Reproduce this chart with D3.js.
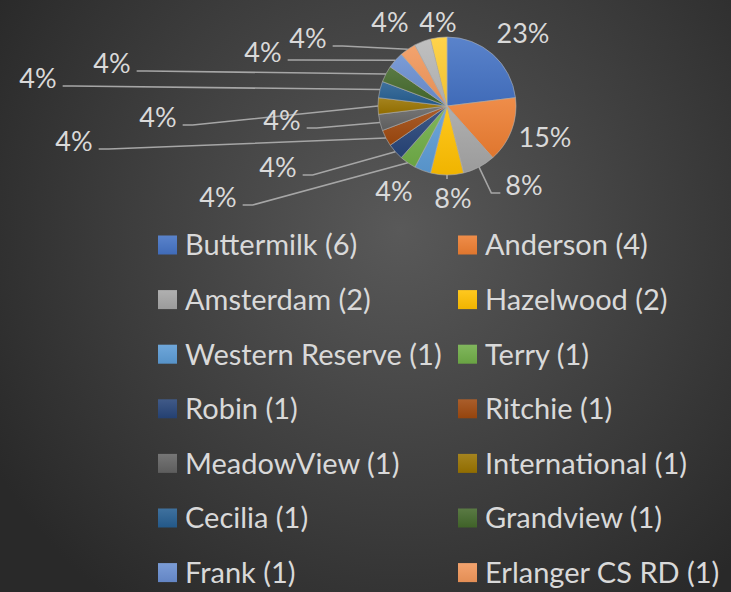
<!DOCTYPE html>
<html>
<head>
<meta charset="utf-8">
<script src="https://cdn.jsdelivr.net/npm/d3@7"></script>
<style>
  html, body { margin: 0; padding: 0; overflow: hidden; background: #333; }
  text { font-family: Lato, "Open Sans", sans-serif; fill: #d9d9d9; }
</style>
</head>
<body>
<div id="chart"></div>
<script>
// data
const schools = ['Buttermilk', 'Anderson', 'Amsterdam', 'Hazelwood', 'Western Reserve', 'Terry',
  'Robin', 'Ritchie', 'MeadowView', 'International', 'Cecilia', 'Grandview', 'Frank',
  'Erlanger CS RD', 'Other 1', 'Other 2'];
const counts = [6, 4, 2, 2, 1, 1, 1, 1, 1, 1, 1, 1, 1, 1, 1, 1];
const colors = ['#4472C4', '#ED7D31', '#A5A5A5', '#FFC000', '#5B9BD5', '#70AD47', '#264478', '#9E480E',
  '#636363', '#997300', '#255E91', '#43682B', '#698ED0', '#F1975A', '#B7B7B7', '#FFCD33'];

// label placement: offset of label centre from the pie centre, and where the leader line attaches
const labelPos = [[76,-73],[98,31],[77,79],[6,92],[-53,85],[-229,91],[-169,61],[-373,35],
  [-165,14],[-289,11],[-409,-28],[-335,-43],[-184,-54],[-139,-68],[-57,-84],[-9,-84]];
const leaderSide = [null, null, 'right', 'below', null, 'left', 'left', 'left',
  'left', 'left', 'left', 'left', 'left', 'left', null, null];

const width = 731, height = 592;
const cx = 447, cy = 106, r = 69;

const svg = d3.select('#chart').append('svg')
  .attr('width', width).attr('height', height);

const defs = svg.append('defs');
const bg = defs.append('radialGradient').attr('id', 'bg')
  .attr('gradientUnits', 'userSpaceOnUse')
  .attr('cx', 400).attr('cy', 230).attr('r', 470);
bg.append('stop').attr('offset', 0).attr('stop-color', '#595959');
bg.append('stop').attr('offset', 1).attr('stop-color', '#292929');

svg.append('rect').attr('width', width).attr('height', height).attr('fill', 'url(#bg)');

// per-colour soft vertical gradient
colors.forEach((c, i) => {
  const g = defs.append('linearGradient').attr('id', 'g' + i)
    .attr('x1', 0).attr('y1', 0).attr('x2', 0).attr('y2', 1);
  g.append('stop').attr('offset', 0).attr('stop-color', d3.interpolateRgb(c, '#fff')(0.12));
  g.append('stop').attr('offset', 1).attr('stop-color', d3.interpolateRgb(c, '#000')(0.06));
});

const total = d3.sum(counts);
const pie = d3.pie().sort(null).value(d => d)(counts);
const arc = d3.arc().innerRadius(0).outerRadius(r);
const edge = d3.arc().innerRadius(r).outerRadius(r);

const gp = svg.append('g').attr('transform', `translate(${cx},${cy})`);

gp.selectAll('path.slice').data(pie).enter().append('path')
  .attr('class', 'slice')
  .attr('d', arc)
  .attr('fill', (d, i) => `url(#g${i})`)
  .attr('stroke', '#b0b0b0')
  .attr('stroke-width', 0.6);

// labels
const labels = gp.selectAll('text.lbl').data(pie).enter().append('text')
  .attr('class', 'lbl')
  .attr('x', (d, i) => labelPos[i][0])
  .attr('y', (d, i) => labelPos[i][1])
  .attr('dy', '0.36em')
  .attr('text-anchor', 'middle')
  .style('font-size', '27px')
  .text(d => d3.format('.0%')(d.value / total));

// leader lines
labels.each(function(d, i) {
  const side = leaderSide[i];
  if (!side) return;
  const [lx, ly] = labelPos[i];
  const hw = this.getComputedTextLength() / 2;
  const s = edge.centroid(d);
  let pts;
  if (side === 'left') {
    const ex = lx + hw + 6, ey = ly + 8;
    pts = [s, [ex + 10, ey], [ex, ey]];
  } else if (side === 'right') {
    const ex = lx - hw - 5, ey = ly + 8;
    pts = [s, [ex - 9, ey], [ex, ey]];
  } else {
    pts = [s, [s[0], s[1] + 4]];
  }
  gp.insert('path', 'text')
    .attr('d', d3.line()(pts))
    .attr('fill', 'none')
    .attr('stroke', '#a6a6a6')
    .attr('stroke-width', 1.6);
});

// legend
const legend = svg.append('g');
const rowY = i => 245 + i * 54.6;
const colX = [158, 458];
const items = legend.selectAll('g').data(schools).enter().append('g')
  .attr('transform', (d, i) => `translate(${colX[i % 2]},${rowY(Math.floor(i / 2))})`);
items.append('rect')
  .attr('x', 0).attr('y', -9.5).attr('width', 19).attr('height', 19)
  .attr('fill', (d, i) => `url(#g${i})`);
items.append('text')
  .attr('x', 27).attr('dy', '0.36em')
  .style('font-size', '29px')
  .text((d, i) => `${d} (${counts[i]})`);
</script>
</body>
</html>
